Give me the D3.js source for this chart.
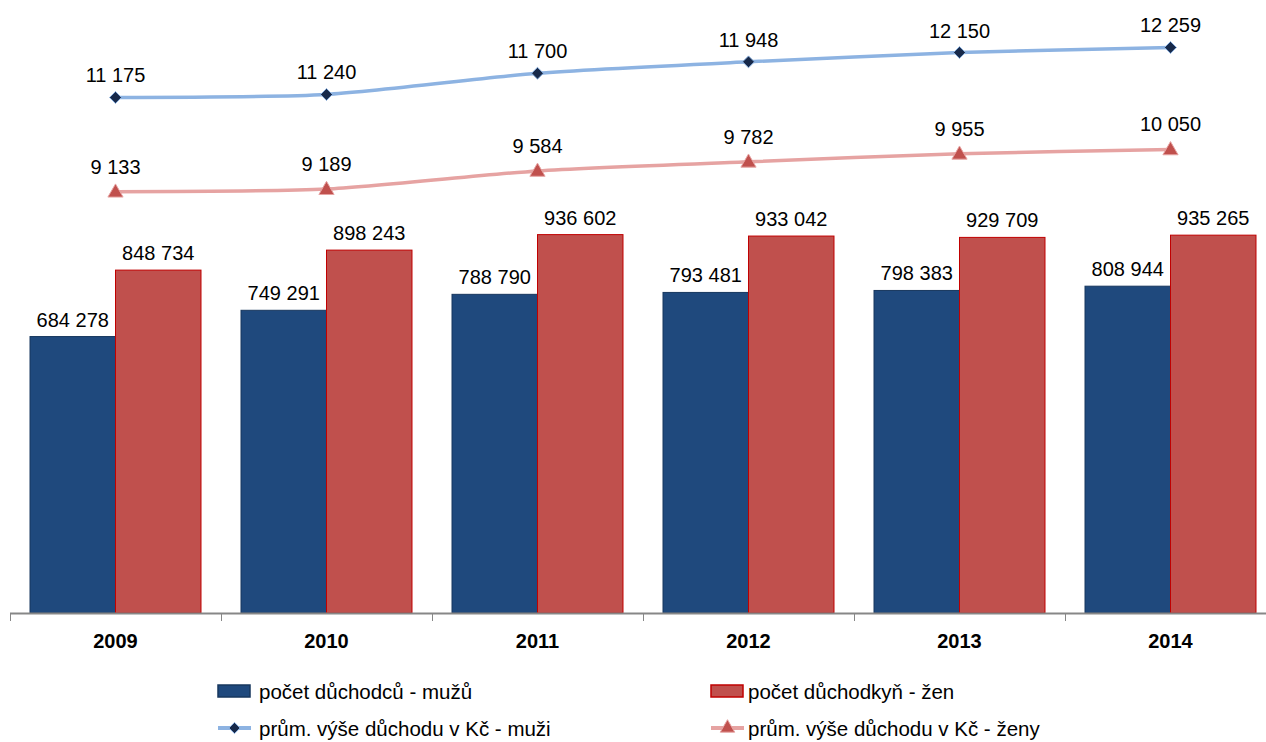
<!DOCTYPE html>
<html><head><meta charset="utf-8">
<script src="https://cdn.jsdelivr.net/npm/d3@7"></script>
<style>body{margin:0;background:#fff}svg{display:block}text{font-family:"Liberation Sans",Arial,sans-serif}</style>
</head><body><svg id="c" width="1266" height="742"></svg>
<script>
const years = ["2009","2010","2011","2012","2013","2014"];
const menCount = [684278, 749291, 788790, 793481, 798383, 808944];
const womenCount = [848734, 898243, 936602, 933042, 929709, 935265];
const menAvg = [11175, 11240, 11700, 11948, 12150, 12259];
const womenAvg = [9133, 9189, 9584, 9782, 9955, 10050];
const seriesNames = ["počet důchodců - mužů","počet důchodkyň - žen","prům. výše důchodu v Kč - muži","prům. výše důchodu v Kč - ženy"];

const svg = d3.select("#c");
const loc = d3.formatLocale({decimal:",", thousands:"\u00a0", grouping:[3], currency:["","Kč"]});
const fmt = loc.format(",d");

const base = 613;
const x = d3.scaleBand().domain(years).range([10, 10 + 211*6]).paddingInner(0).paddingOuter(0);
const xs = d3.scaleBand().domain([0,1]).range([0, x.bandwidth()]).paddingInner(0).paddingOuter(0.234);
const y = d3.scaleLinear().domain([0, 1500000]).range([base, 7]);
const y2 = d3.scaleLinear().domain([0, 13000]).range([base, 13.3]);

const colors = {menBar:"#1f497d", menBarStroke:"#17375e", womenBar:"#c0504d", womenBarStroke:"#c00000",
  menLine:"#8db3e2", menMarker:"#17294a", womenLine:"#e6a3a2", womenMarker:"#c0504d"};

// bars
const g = svg.append("g");
years.forEach((yr,i)=>{
  const x0 = x(yr);
  [[menCount[i], colors.menBar, colors.menBarStroke, 0],[womenCount[i], colors.womenBar, colors.womenBarStroke, 1]].forEach(([v,f,s,k])=>{
    const bx = x0 + xs(k);
    g.append("rect").attr("x", bx).attr("y", y(v)).attr("width", xs.bandwidth()).attr("height", base - y(v))
      .attr("fill", f).attr("stroke", s).attr("stroke-width", 1);
    g.append("text").attr("x", bx + xs.bandwidth()/2).attr("y", y(v) - 10).attr("text-anchor","middle")
      .attr("font-size", 20).attr("fill","#000").text(fmt(v));
  });
});

// axis
const axis = svg.append("g").attr("transform", `translate(0,${base})`)
  .call(d3.axisBottom(x).tickSize(0).tickPadding(0).tickFormat(""));
axis.select(".domain").remove();
axis.append("line").attr("x1",10).attr("x2",1266).attr("y1",0.5).attr("y2",0.5).attr("stroke","#878787").attr("stroke-width",2);
years.forEach(yr=>{
  axis.append("line").attr("x1",Math.round(x(yr))+0.5).attr("x2",Math.round(x(yr))+0.5).attr("y1",0).attr("y2",8).attr("stroke","#878787").attr("stroke-width",1);
});
years.forEach(yr=>{
  svg.append("text").attr("x", x(yr)+x.bandwidth()/2).attr("y", 648).attr("text-anchor","middle")
    .attr("font-size",20).attr("font-weight","bold").attr("fill","#000").text(yr);
});

// lines
const cx = yr => x(yr) + x.bandwidth()/2;
const line = d3.line().x(d=>cx(d[0])).y(d=>y2(d[1])).curve(d3.curveCardinal.tension(0.35));
function drawLine(vals, lc, mc, shape, labOff){
  const data = years.map((yr,i)=>[yr, vals[i]]);
  svg.append("path").datum(data).attr("d", line).attr("fill","none").attr("stroke", lc).attr("stroke-width",3.5);
  data.forEach(d=>{
    const px = cx(d[0]), py = y2(d[1]);
    if(shape==="diamond"){
      svg.append("path").attr("d", d3.symbol(d3.symbolDiamond2, 90)()).attr("transform",`translate(${px},${py})`)
        .attr("fill", mc).attr("stroke", lc).attr("stroke-width",1);
    } else {
      svg.append("path").attr("d", d3.symbol(d3.symbolTriangle, 100)()).attr("transform",`translate(${px},${py+1})`)
        .attr("fill", mc).attr("stroke", lc).attr("stroke-width",1);
    }
    svg.append("text").attr("x", px).attr("y", py - labOff).attr("text-anchor","middle")
      .attr("font-size",20).attr("fill","#000").text(fmt(d[1]));
  });
}
drawLine(menAvg, colors.menLine, colors.menMarker, "diamond", 15);
drawLine(womenAvg, colors.womenLine, colors.womenMarker, "triangle", 18);

// legend
const lg = svg.append("g");
const legendItems = [
  {name:seriesNames[0], type:"bar", f:colors.menBar, s:colors.menBarStroke, x:218, tx:259, y:691},
  {name:seriesNames[1], type:"bar", f:colors.womenBar, s:colors.womenBarStroke, x:711, tx:748, y:691},
  {name:seriesNames[2], type:"line", lc:colors.menLine, mc:colors.menMarker, shape:"diamond", x:218, tx:259, y:728},
  {name:seriesNames[3], type:"line", lc:colors.womenLine, mc:colors.womenMarker, shape:"triangle", x:711, tx:748, y:728}
];
legendItems.forEach(it=>{
  if(it.type==="bar"){
    lg.append("rect").attr("x", it.x).attr("y", it.y-6).attr("width", 32).attr("height", 12).attr("fill", it.f).attr("stroke", it.s).attr("stroke-width",1.5);
  } else {
    lg.append("line").attr("x1", it.x).attr("x2", it.x+33).attr("y1", it.y).attr("y2", it.y).attr("stroke", it.lc).attr("stroke-width",4);
    const sym = it.shape==="diamond" ? d3.symbol(d3.symbolDiamond2, 80)() : d3.symbol(d3.symbolTriangle, 90)();
    lg.append("path").attr("d", sym).attr("transform",`translate(${it.x+16.5},${it.y})`).attr("fill", it.mc).attr("stroke", it.lc).attr("stroke-width",1);
  }
  lg.append("text").attr("x", it.tx).attr("y", it.y + 8).attr("font-size",20.5).attr("fill","#000").text(it.name);
});
</script></body></html>
